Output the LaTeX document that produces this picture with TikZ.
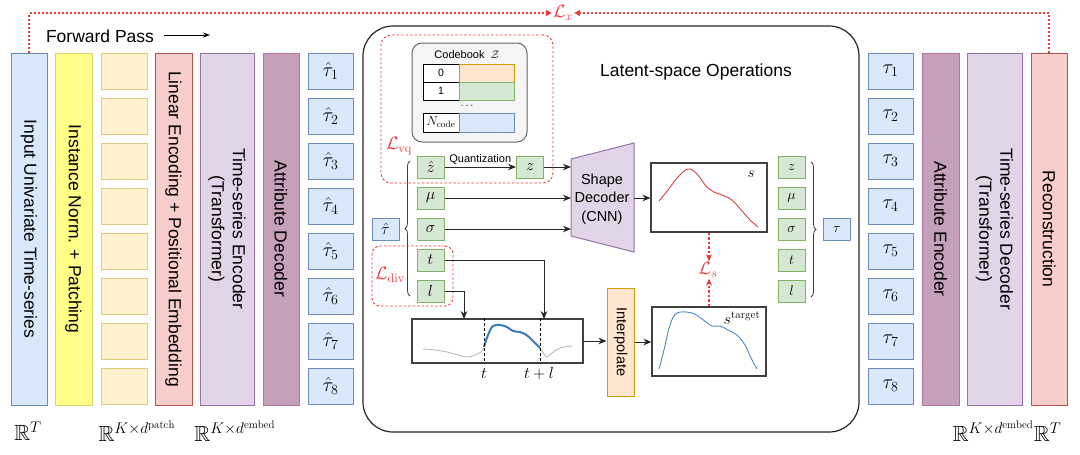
\RequirePackage{fix-cm}
\documentclass[tikz,border=0pt]{standalone}
\usepackage{amsmath,amssymb}
\usepackage{fontspec}
\setsansfont{Liberation Sans}
\usetikzlibrary{arrows.meta,decorations.pathreplacing}
\definecolor{bfill}{HTML}{DAE8FC}\definecolor{bdraw}{HTML}{6C8EBF}
\definecolor{gfill}{HTML}{D5E8D4}\definecolor{gdraw}{HTML}{82B366}
\definecolor{ofill}{HTML}{FFE6CC}\definecolor{odraw}{HTML}{D79B00}
\definecolor{yfill}{HTML}{FFFF88}\definecolor{ydraw}{HTML}{D6D66A}
\definecolor{pfill}{HTML}{FFF2CC}\definecolor{pdraw}{HTML}{E2C97E}
\definecolor{rfill}{HTML}{F8CECC}\definecolor{rdraw}{HTML}{B85450}
\definecolor{lfill}{HTML}{E1D5E7}\definecolor{ldraw}{HTML}{9673A6}
\definecolor{mfill}{HTML}{C4A0BA}\definecolor{mdraw}{HTML}{B5739D}
\definecolor{lossred}{HTML}{F03A3A}
\definecolor{cbfill}{HTML}{F5F5F5}\definecolor{cbdraw}{HTML}{666666}
\definecolor{sigblue}{HTML}{3A78C0}
\definecolor{siggray}{HTML}{BBBBBB}
\definecolor{curvered}{HTML}{D94040}
\definecolor{curveblue}{HTML}{4A88CC}
\newcommand\fsz[2]{\fontsize{#1}{#2}\selectfont}
\tikzset{
  colbox/.style 2 args={draw=#2, fill=#1, line width=1pt, inner sep=0pt},
  coltext/.style={rotate=-90, font=\sffamily\fsz{17.5}{21}, align=center, inner sep=0pt},
  gbox/.style={draw=gdraw, fill=gfill, line width=1pt, minimum width=27, minimum height=22, inner sep=0pt, font=\fsz{16}{18}},
  gboxs/.style={draw=gdraw, fill=gfill, line width=1pt, minimum width=27, minimum height=22, inner sep=0pt, font=\fsz{14}{16}},
  bbox/.style={draw=bdraw, fill=bfill, line width=1pt, minimum width=27, minimum height=22, inner sep=0pt, font=\fsz{16}{18}},
  taubox/.style={draw=bdraw, fill=bfill, line width=1pt, minimum width=45, minimum height=36, inner sep=0pt, font=\fsz{20}{22}},
  cell/.style={draw=black, line width=0.8pt, inner sep=0pt, font=\sffamily\fsz{10.5}{12}},
  arr/.style={draw=black!85, line width=1pt, -{Stealth[length=8pt,width=6.5pt]}},
  lossline/.style={draw=lossred, line width=0.9pt, dash pattern=on 2.5pt off 2pt},
  lxarrow/.style={draw=lossred, line width=1.3pt, dash pattern=on 2pt off 2pt, -{Triangle[length=6pt,width=6pt,fill=lossred]}},
  lsarrow/.style={draw=lossred, line width=1.3pt, dash pattern=on 2.5pt off 2pt, -{Stealth[length=7pt,width=6pt,fill=lossred]}},
  losslab/.style={text=lossred, font=\fsz{18}{20}, inner sep=1pt},
  rlab/.style={font=\fsz{22}{24}, inner sep=0pt},
  bracestyle/.style={draw=black!75, line width=0.8pt, decorate, decoration={brace, amplitude=5pt}},
}
\begin{document}
\begin{tikzpicture}[x=1pt,y=-1pt]
\useasboundingbox (0,0) rectangle (1080,455);

% ---------- left columns ----------
\node[colbox={bfill}{bdraw}, minimum width=36, minimum height=352] (inp) at (29,229) {};
\node[coltext] (inpT) at (inp) {Input Univariate Time-series};
\node[colbox={yfill}{ydraw}, minimum width=37, minimum height=352] (norm) at (73.5,229) {};
\node[coltext] (normT) at (norm) {Instance Norm. + Patching};
\foreach \i in {1,...,8}
  \node[colbox={pfill}{pdraw}, minimum width=46, minimum height=36] (p\i) at (124,26+45*\i) {};
\node[colbox={rfill}{rdraw}, minimum width=37, minimum height=352] (lin) at (173.5,229) {};
\node[coltext] (linT) at (lin) {Linear Encoding + Positional Embedding};
\node[colbox={lfill}{ldraw}, minimum width=54, minimum height=352] (enc) at (227,229) {};
\node[coltext] (encT) at (enc) {Time-series Encoder\\(Transformer)};
\node[colbox={mfill}{mdraw}, minimum width=36, minimum height=352] (adec) at (281,229) {};
\node[coltext] (adecT) at (adec) {Attribute Decoder};
\foreach \i in {1,...,8}
  \node[taubox] (th\i) at (330.5,26+45*\i) {$\hat{\tau}_{\i}$};

% ---------- right columns ----------
\foreach \i in {1,...,8}
  \node[taubox] (ta\i) at (890.5,26+45*\i) {$\tau_{\i}$};
\node[colbox={mfill}{mdraw}, minimum width=37, minimum height=352] (aenc) at (940.5,229) {};
\node[coltext] (aencT) at (aenc) {Attribute Encoder};
\node[colbox={lfill}{ldraw}, minimum width=55, minimum height=352] (dec) at (994.5,229) {};
\node[coltext] (decT) at (dec) {Time-series Decoder\\(Transformer)};
\node[colbox={rfill}{rdraw}, minimum width=36, minimum height=352] (rec) at (1049,229) {};
\node[coltext] (recT) at (rec) {Reconstruction};

% ---------- forward pass ----------
\node[font=\sffamily\fsz{17.5}{20}, inner sep=0pt] (fp) at (100,36) {Forward Pass};
\coordinate (fpS) at (164,35);
\coordinate (fpE) at (210,35);
\draw[draw=black, line width=0.9pt, -{Stealth[length=7pt,width=5pt]}] (fpS) -- (fpE);

% ---------- L_x ----------
\node[losslab] (Lx) at (563,13) {$\mathcal{L}_x$};
\draw[lxarrow] (inp.north) |- (Lx.west);
\draw[lxarrow] (rec.north) |- (Lx.east);

% ---------- bottom labels ----------
\node[rlab] (r1) at (28,431) {$\mathbb{R}^{T}$};
\node[rlab] (r2) at (137,431) {$\mathbb{R}^{K\times d^{\mathrm{patch}}}$};
\node[rlab] (r3) at (235,431) {$\mathbb{R}^{K\times d^{\mathrm{embed}}}$};
\node[rlab] (r4) at (1007,431) {$\mathbb{R}^{K\times d^{\mathrm{embed}}}\mathbb{R}^{T}$};

% ---------- latent container ----------
\node[draw=black!85, line width=1.2pt, rounded corners=30pt, minimum width=496, minimum height=406, inner sep=0pt] (latent) at (611,229) {};
\node[font=\sffamily\fsz{17.5}{20}, inner sep=0pt] (latT) at (696,72) {Latent-space Operations};

% ---------- codebook ----------
\node[lossline, rounded corners=10pt, minimum width=172, minimum height=148, inner sep=0pt] (vqbox) at (467,109) {};
\node[draw=cbdraw, fill=cbfill, line width=1pt, rounded corners=10pt, minimum width=115, minimum height=99, inner sep=0pt] (cb) at (469.5,92.5) {};
\node[font=\sffamily\fsz{11}{13}, inner sep=0pt] (cbT) at (467,55) {Codebook\ \ $\mathcal{Z}$};
\node[cell, fill=white, minimum width=36, minimum height=18] (c0l) at (441,73) {0};
\node[cell, draw=odraw, fill=ofill, minimum width=55, minimum height=18] (c0r) at (486.5,73) {};
\node[cell, fill=white, minimum width=36, minimum height=18] (c1l) at (441,91) {1};
\node[cell, draw=gdraw, fill=gfill, minimum width=55, minimum height=18] (c1r) at (486.5,91) {};
\node[inner sep=0pt, font=\fsz{11}{12}] (cdots) at (468,106) {$\cdots$};
\node[cell, fill=white, minimum width=36, minimum height=19, font=\fsz{13}{14}] (cNl) at (441,122.5) {$N_{\mathrm{code}}$};
\node[cell, draw=bdraw, fill=bfill, minimum width=55, minimum height=19] (cNr) at (486.5,122.5) {};
\node[losslab] (Lvq) at (399,146) {$\mathcal{L}_{\mathrm{vq}}$};

% ---------- latent variables ----------
\node[bbox] (tauh) at (385.5,229) {$\hat{\tau}$};
\node[gbox] (zh) at (430.5,167) {$\hat{z}$};
\node[gbox] (mu) at (430.5,198) {$\mu$};
\node[gbox] (sg) at (430.5,229) {$\sigma$};
\node[gbox] (tt) at (430.5,260) {$t$};
\node[gbox] (ll) at (430.5,291) {$l$};
\coordinate (bL1) at (410,296);
\coordinate (bL2) at (410,161);
\draw[bracestyle] (bL1) -- (bL2);
\node[lossline, rounded corners=8pt, minimum width=81, minimum height=60, inner sep=0pt] (divbox) at (412.5,276) {};
\node[losslab] (Ldiv) at (390,275) {$\mathcal{L}_{\mathrm{div}}$};

\node[gbox] (z) at (530,167) {$z$};
\draw[arr] (zh) -- node[above=1pt, font=\sffamily\fsz{11}{12}, inner sep=1pt] (quant) {Quantization} (z);

% ---------- shape decoder ----------
\coordinate (sdTL) at (571,159);
\coordinate (sdTR) at (634,143);
\coordinate (sdBR) at (634,252);
\coordinate (sdBL) at (571,236);
\draw[draw=ldraw, fill=lfill, line width=1pt] (sdTL) -- (sdTR) -- (sdBR) -- (sdBL) -- cycle;
\node[font=\sffamily\fsz{14.5}{18.5}, align=center, inner sep=0pt] (sdec) at (602,199) {Shape\\Decoder\\(CNN)};
\coordinate (sdL) at (571,198);
\coordinate (sdR) at (634,198);
\draw[arr] (z.east) -- (z.east -| sdL);
\draw[arr] (mu.east) -- (mu.east -| sdL);
\draw[arr] (sg.east) -- (sg.east -| sdL);

% ---------- s box ----------
\node[draw=black!75, line width=1.1pt, minimum width=116, minimum height=69, inner sep=0pt] (sbox) at (709,197.5) {};
\node[font=\fsz{15}{16}, inner sep=0pt] (sT) at (751,174) {$s$};
\draw[curvered, line width=0.9pt] plot[smooth, tension=0.6] coordinates {(659,201) (668,190) (678,177) (688,169) (697,174) (706,186) (714,192) (722,195) (732,200) (742,211) (750,220) (758,227)};
\draw[arr] (sdR) -- (sdR -| sbox.west);

% ---------- L_s ----------
\node[losslab] (Ls) at (708,270) {$\mathcal{L}_s$};
\node[draw=black!75, line width=1.1pt, minimum width=114, minimum height=69, inner sep=0pt] (star) at (709,341.5) {};
\node[font=\fsz{16}{17}, inner sep=0pt] (starT) at (742,318) {$s^{\mathrm{target}}$};
\draw[curveblue, line width=0.9pt] plot[smooth, tension=0.6] coordinates {(659,369) (664,350) (670,325) (677,313) (692,313) (702,319) (712,326) (720,326) (728,330) (737,335) (745,345) (751,358) (757,369)};
\draw[lsarrow] (sbox.south) -- (sbox.south |- Ls.north);
\draw[lsarrow] (star.north) -- (star.north |- Ls.south);

% ---------- signal & interpolate ----------
\node[draw=black!75, line width=1.1pt, minimum width=171, minimum height=44, inner sep=0pt] (sig) at (497.5,341) {};
\draw[siggray, line width=0.9pt] plot[smooth, tension=0.6] coordinates {(423,349) (435,350) (447,352) (458,355) (467,357) (475,355) (481,352) (484,348)};
\draw[sigblue, line width=2pt] plot[smooth, tension=0.6] coordinates {(484,347) (488,335) (493,326) (500,325) (507,327) (513,331) (520,332) (525,334) (530,338) (535,343) (540,348)};
\draw[siggray, line width=0.9pt] plot[smooth, tension=0.6] coordinates {(540,348) (544,354) (547,357) (552,353) (560,348) (572,346)};
\draw[black, line width=0.8pt, dash pattern=on 3pt off 2pt] (sig.north -| 484,0) -- (sig.south -| 484,0);
\draw[black, line width=0.8pt, dash pattern=on 3pt off 2pt] (sig.north -| 540,0) -- (sig.south -| 540,0);
\node[font=\fsz{16}{17}, inner sep=0pt] (tlab) at (484,374) {$t$};
\node[font=\fsz{16}{17}, inner sep=0pt] (tllab) at (539,374) {$t+l$};
\coordinate (sigA) at (464,319);
\coordinate (sigB) at (544,319);
\draw[arr] (ll.east) -| (sigA);
\draw[arr] (tt.east) -| (sigB);

\node[draw=odraw, fill=ofill, line width=1pt, minimum width=27, minimum height=108, inner sep=0pt] (interp) at (620.5,342) {};
\node[rotate=-90, font=\sffamily\fsz{14.5}{16}, inner sep=0pt] (interpT) at (interp) {Interpolate};
\draw[arr] (sig.east) -- (sig.east -| interp.west);
\draw[arr] (interp.east) -- (interp.east -| star.west);

% ---------- right latent variables ----------
\node[gboxs] (z2) at (791.5,167) {$z$};
\node[gboxs] (mu2) at (791.5,198) {$\mu$};
\node[gboxs] (sg2) at (791.5,229) {$\sigma$};
\node[gboxs] (tt2) at (791.5,260) {$t$};
\node[gboxs] (ll2) at (791.5,291) {$l$};
\coordinate (bR1) at (811,162);
\coordinate (bR2) at (811,297);
\draw[bracestyle] (bR1) -- (bR2);
\node[bbox, font=\fsz{14}{16}] (tau) at (837,229) {$\tau$};
\end{tikzpicture}
\end{document}
